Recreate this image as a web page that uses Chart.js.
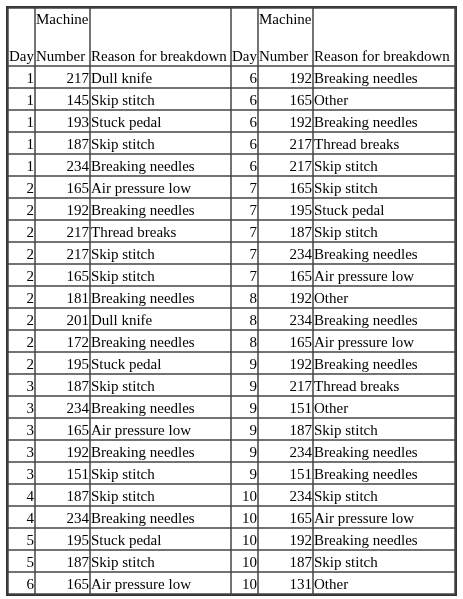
<!DOCTYPE html>
<html><head><meta charset="utf-8">
<script src="https://cdn.jsdelivr.net/npm/chart.js@4"></script>
<style>html,body{margin:0;padding:0;background:#fff}#c{display:block}</style>
</head><body>
<div style="width:463px;height:599px"><canvas id="c"></canvas></div>
<script>
const headers = ["Day","Machine Number","Reason for breakdown","Day","Machine Number","Reason for breakdown"];
const dayLeft = [1,1,1,1,1,2,2,2,2,2,2,2,2,2,3,3,3,3,3,4,4,5,5,6];
const machineLeft = [217,145,193,187,234,165,192,217,217,165,181,201,172,195,187,234,165,192,151,187,234,195,187,165];
const reasonLeft = ["Dull knife","Skip stitch","Stuck pedal","Skip stitch","Breaking needles","Air pressure low","Breaking needles","Thread breaks","Skip stitch","Skip stitch","Breaking needles","Dull knife","Breaking needles","Stuck pedal","Skip stitch","Breaking needles","Air pressure low","Breaking needles","Skip stitch","Skip stitch","Breaking needles","Stuck pedal","Skip stitch","Air pressure low"];
const dayRight = [6,6,6,6,6,7,7,7,7,7,8,8,8,9,9,9,9,9,9,10,10,10,10,10];
const machineRight = [192,165,192,217,217,165,195,187,234,165,192,234,165,192,217,151,187,234,151,234,165,192,187,131];
const reasonRight = ["Breaking needles","Other","Breaking needles","Thread breaks","Skip stitch","Skip stitch","Stuck pedal","Skip stitch","Breaking needles","Air pressure low","Other","Breaking needles","Air pressure low","Breaking needles","Thread breaks","Other","Skip stitch","Breaking needles","Breaking needles","Skip stitch","Air pressure low","Breaking needles","Skip stitch","Other"];

const colEdges = [8,35,90,231,258,313,455];
const rowTop = 66, rowH = 22, tableTop = 8;
const cols = [
  {v:dayLeft,align:'right'},{v:machineLeft,align:'right'},{v:reasonLeft,align:'left'},
  {v:dayRight,align:'right'},{v:machineRight,align:'right'},{v:reasonRight,align:'left'}];

const tablePlugin = {
  id:'table',
  afterDraw(chart){
    const ctx = chart.ctx, xs = chart.scales.x, ys = chart.scales.y;
    const X = v=>xs.getPixelForValue(v), Y = v=>ys.getPixelForValue(v);
    const n = dayLeft.length, bottom = rowTop + n*rowH;
    ctx.save();
    ctx.strokeStyle = '#333'; ctx.lineWidth = 2;
    ctx.strokeRect(X(7), Y(7), X(456)-X(7), Y(bottom+1)-Y(7));
    ctx.lineWidth = 1.5; ctx.strokeStyle='#444';
    colEdges.forEach(e=>{ctx.beginPath();ctx.moveTo(X(e),Y(tableTop));ctx.lineTo(X(e),Y(bottom));ctx.stroke();});
    for(let r=0;r<=n;r++){const y=rowTop+r*rowH;ctx.beginPath();ctx.moveTo(X(8),Y(y));ctx.lineTo(X(455),Y(y));ctx.stroke();}
    ctx.beginPath();ctx.moveTo(X(8),Y(tableTop));ctx.lineTo(X(455),Y(tableTop));ctx.stroke();
    ctx.fillStyle='#000'; ctx.font='15px "Liberation Serif", "Times New Roman", serif';
    ctx.textBaseline='alphabetic';
    headers.forEach((h,i)=>{
      const x0 = colEdges[i]+1;
      ctx.textAlign='left';
      if(h.startsWith('Machine')){
        ctx.fillText('Machine', X(x0), Y(24));
        ctx.fillText('Number', X(x0), Y(61));
      } else ctx.fillText(h, X(x0), Y(61));
    });
    cols.forEach((c,i)=>{
      c.v.forEach((val,r)=>{
        const y = rowTop + r*rowH + 17;
        if(c.align==='right'){ctx.textAlign='right';ctx.fillText(String(val), X(colEdges[i+1]-1), Y(y));}
        else {ctx.textAlign='left';ctx.fillText(String(val), X(colEdges[i]+1), Y(y));}
      });
    });
    ctx.restore();
  }
};

new Chart(document.getElementById('c'),{
  type:'scatter',
  data:{datasets:[{data:[]}]},
  options:{responsive:true,maintainAspectRatio:false,animation:false,
    layout:{padding:0},
    plugins:{legend:{display:false},tooltip:{enabled:false}},
    scales:{x:{type:'linear',min:0,max:463,display:false},
            y:{type:'linear',min:0,max:599,reverse:true,display:false}}},
  plugins:[tablePlugin]
});
</script>
</body></html>
